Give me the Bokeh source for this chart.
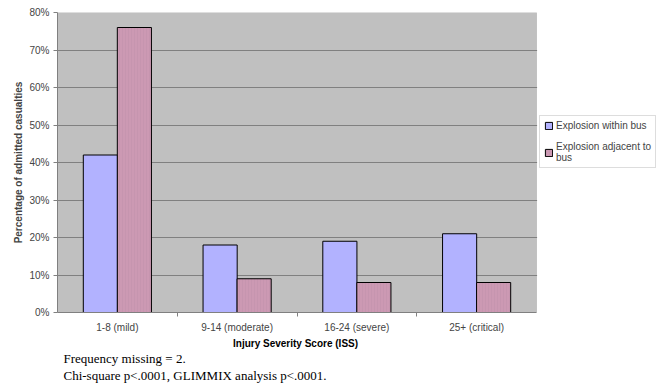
from bokeh.plotting import figure
from bokeh.models import (ColumnDataSource, Range1d, FixedTicker, NumeralTickFormatter, Legend, LegendItem,
                          Title, BoxAnnotation)
from bokeh.embed import file_html
from bokeh.resources import INLINE

categories = ["1-8 (mild)", "9-14 (moderate)", "16-24 (severe)", "25+ (critical)"]
within_bus = [0.42, 0.18, 0.19, 0.21]
adjacent_bus = [0.76, 0.09, 0.08, 0.08]
series_names = ["Explosion within bus", "Explosion adjacent to\nbus"]
y_ticks = [0, 0.1, 0.2, 0.3, 0.4, 0.5, 0.6, 0.7, 0.8]
x_title = "Injury Severity Score (ISS)"
captions = ["Frequency missing = 2.", "Chi-square  p<.0001, GLIMMIX analysis p<.0001."]

W, H = 666, 384
LEFT, TOP, BOTTOM = 57, 12, 72
PLOT_W = 479  # grey plotting area width in px
n = len(categories)
frame_w = W - LEFT
x_max = n * frame_w / PLOT_W
px = n / PLOT_W  # one pixel in data units

centers = [i + 0.5 for i in range(n)]
src1 = ColumnDataSource(dict(x=[c - 0.142 for c in centers], top=within_bus))
src2 = ColumnDataSource(dict(x=[c + 0.142 for c in centers], top=adjacent_bus))

p = figure(width=W, height=H, output_backend="svg", toolbar_location=None,
           x_range=Range1d(0, x_max), y_range=Range1d(0, y_ticks[-1]),
           min_border_left=LEFT, min_border_right=0, min_border_top=TOP, min_border_bottom=BOTTOM)
p.background_fill_color = "white"
p.border_fill_color = "white"
p.outline_line_color = None

bg = BoxAnnotation(left=0, right=n, bottom=0, top=y_ticks[-1], fill_color="#C0C0C0", fill_alpha=1,
                   line_color="#808080", line_width=1, level="image")
p.add_layout(bg)

p.xgrid.visible = False
p.ygrid.grid_line_color = "#808080"
p.ygrid.grid_line_width = 1
p.ygrid.ticker = FixedTicker(ticks=y_ticks)

# blank out grid lines right of the grey plotting area
mask = BoxAnnotation(left=n + 0.6 * px, fill_color="white", fill_alpha=1, line_color=None, level="underlay")
p.add_layout(mask)

r1 = p.vbar(x="x", top="top", width=0.285, source=src1, fill_color="#B2B2FF", line_color="black", line_width=1)
r2 = p.vbar(x="x", top="top", width=0.285, source=src2, fill_color="#CC99B3", line_color="black", line_width=1,
            hatch_pattern="vertical_line", hatch_color="#C090AA", hatch_scale=3, hatch_weight=0.5)

xa = p.xaxis[0]
xa.bounds = (0, n)
xa.ticker = FixedTicker(ticks=centers, minor_ticks=list(range(1, n)))
xa.major_label_overrides = {c: categories[i] for i, c in enumerate(centers)}
xa.major_tick_line_color = None
xa.minor_tick_line_color = "#808080"
xa.minor_tick_out = 4
xa.minor_tick_in = 0
xa.axis_line_color = "#808080"
xa.major_label_text_font = "Liberation Sans"
xa.major_label_text_font_size = "10px"
xa.major_label_standoff = 3

ya = p.yaxis[0]
ya.ticker = FixedTicker(ticks=y_ticks)
ya.formatter = NumeralTickFormatter(format="0%")
ya.minor_tick_line_color = None
ya.major_tick_line_color = "#808080"
ya.major_tick_out = 4
ya.major_tick_in = 0
ya.axis_line_color = "#808080"
ya.axis_label = "Percentage of admitted casualties"
ya.axis_label_text_font = "Liberation Sans"
ya.axis_label_text_font_style = "bold"
ya.axis_label_text_font_size = "10px"
ya.axis_label_standoff = 2
ya.major_label_text_font = "Liberation Sans"
ya.major_label_text_font_size = "10px"
ya.major_label_standoff = 4

legend = Legend(items=[LegendItem(label=series_names[0], renderers=[r1]),
                       LegendItem(label=series_names[1], renderers=[r2])],
                location=(PLOT_W + 3, 144))
legend.label_text_font = "Liberation Sans"
legend.label_text_font_size = "10px"
legend.glyph_width = 9
legend.glyph_height = 9
legend.label_standoff = 3
legend.spacing = 10
legend.padding = 4
legend.margin = 0
legend.border_line_color = "#BBBBBB"
legend.background_fill_color = "white"
legend.label_height = 10
p.add_layout(legend, "center")

t0 = Title(text=x_title, align="left", offset=PLOT_W / 2 - 64, text_font="Liberation Sans",
           text_font_size="10px", text_font_style="bold", text_color="black", standoff=0)
p.add_layout(t0, "below")
for txt in captions:
    t = Title(text=txt, align="left", offset=6, text_font="Liberation Serif", text_font_size="13px",
              text_font_style="normal", text_color="black", standoff=0, text_line_height=0.9)
    p.add_layout(t, "below")

open("out.html", "w").write(file_html(p, INLINE))
